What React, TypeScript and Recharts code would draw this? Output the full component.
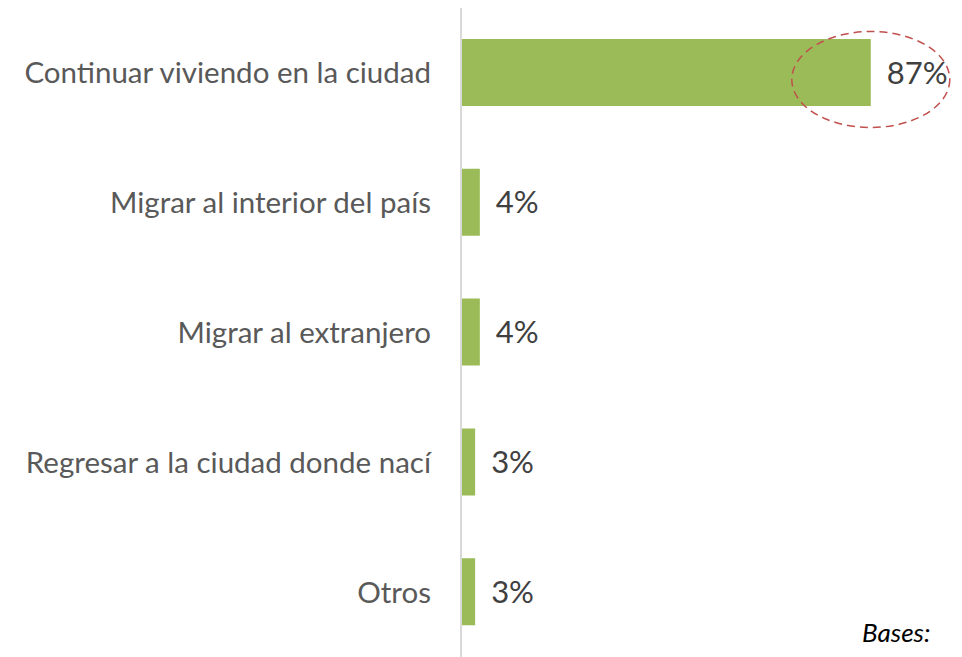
import React from 'react';
import { BarChart, Bar, XAxis, YAxis, LabelList } from 'recharts';

const categories = [
  'Continuar viviendo en la ciudad',
  'Migrar al interior del país',
  'Migrar al extranjero',
  'Regresar a la ciudad donde nací',
  'Otros',
];
const values = [87, 4, 4, 3, 3];

const data = categories.map((name, i) => ({ name, value: values[i] }));

const FONT = 'Lato, "Open Sans", sans-serif';

// etiqueta de valor; la primera barra lleva el óvalo punteado
const ValueLabel = (props: any) => {
  const { x, y, width, height, value, index } = props;
  const cy = y + height / 2;
  return (
    <g>
      {index === 0 && (
        <ellipse
          cx={x + width}
          cy={cy + 7}
          rx={79}
          ry={48}
          fill="none"
          stroke="#C0504D"
          strokeWidth={1.5}
          strokeDasharray="8 5"
        />
      )}
      <text
        x={x + width + 16}
        y={cy}
        dy="0.36em"
        fontFamily={FONT}
        fontSize={31}
        fill="#404040"
      >
        {value}%
      </text>
    </g>
  );
};

export default function App() {
  return (
    <div style={{ position: 'absolute', left: 0, top: 0, width: 962, height: 657, background: '#fff' }}>
      <BarChart
        width={962}
        height={657}
        data={data}
        layout="vertical"
        margin={{ top: 8, right: 30, bottom: 0, left: 0 }}
        barSize={67}
      >
        <XAxis type="number" domain={[0, 100]} hide />
        <YAxis
          type="category"
          dataKey="name"
          width={461}
          axisLine={{ stroke: '#D9D9D9', strokeWidth: 2 }}
          tickLine={false}
          tickSize={0}
          tickMargin={30}
          tick={{ fontFamily: FONT, fontSize: 29.5, fill: '#595959' }}
          interval={0}
        />
        <Bar dataKey="value" fill="#9BBB59" isAnimationActive={false}>
          <LabelList dataKey="value" content={<ValueLabel />} />
        </Bar>
      </BarChart>
      <div
        style={{
          position: 'absolute',
          left: 862,
          top: 616,
          fontFamily: FONT,
          fontStyle: 'italic',
          fontSize: 26,
          color: '#000',
        }}
      >
        Bases:
      </div>
    </div>
  );
}
